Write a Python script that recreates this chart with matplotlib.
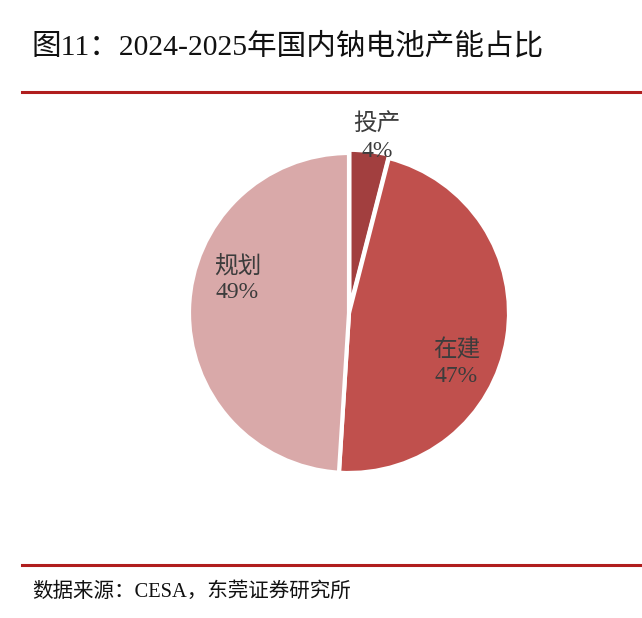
import numpy as np
import matplotlib.pyplot as plt
from matplotlib.lines import Line2D

labels = ['投产', '在建', '规划']
shares = [4, 47, 49]
colors = ['#A23F3F', '#C0504D', '#D9A9A9']
title = '图11：2024-2025年国内钠电池产能占比'
source = '数据来源：CESA，东莞证券研究所'

fam = ['Liberation Serif', 'Noto Sans CJK SC', 'DejaVu Sans']

W, H = 642, 618
fig = plt.figure(figsize=(W / 100, H / 100), dpi=100)
fig.patch.set_facecolor('white')

# pie axes: centre ~(348, 313) px, radius ~159 px
cx, cy, r = 349, 313, 160
ax = fig.add_axes([(cx - r) / W, (H - cy - r) / H, 2 * r / W, 2 * r / H])
wedges, _ = ax.pie(shares, colors=colors, startangle=90, counterclock=False,
                   explode=[0.02, 0, 0],
                   wedgeprops=dict(edgecolor='white', linewidth=3))
ax.set_xlim(-1, 1)
ax.set_ylim(-1, 1)
ax.set_aspect('equal')
ax.axis('off')

# label placement (radius fraction, angle in degrees)
label_pos = [(1.11, 81), (0.74, -25), (0.73, 163)]
for lab, val, (rr, ang) in zip(labels, shares, label_pos):
    x = rr * np.cos(np.radians(ang))
    y = rr * np.sin(np.radians(ang))
    ax.text(x, y, f'{lab}\n{val}%', ha='center', va='center', fontsize=17,
            color='#3c3c3c', family=fam, linespacing=1.3)

fig.text(32 / W, 1 - 47 / H, title, fontsize=21.3, family=fam,
         color='#111111', va='center', ha='left')
fig.text(32 / W, 1 - 592 / H, source, fontsize=14.8, family=fam,
         color='#111111', va='center', ha='left')

for yy in (92, 565):
    fig.add_artist(Line2D([22 / W, 1], [1 - yy / H, 1 - yy / H],
                          color='#B01E1E', linewidth=2.2))

fig.savefig('out.png', dpi=100, facecolor='white')
